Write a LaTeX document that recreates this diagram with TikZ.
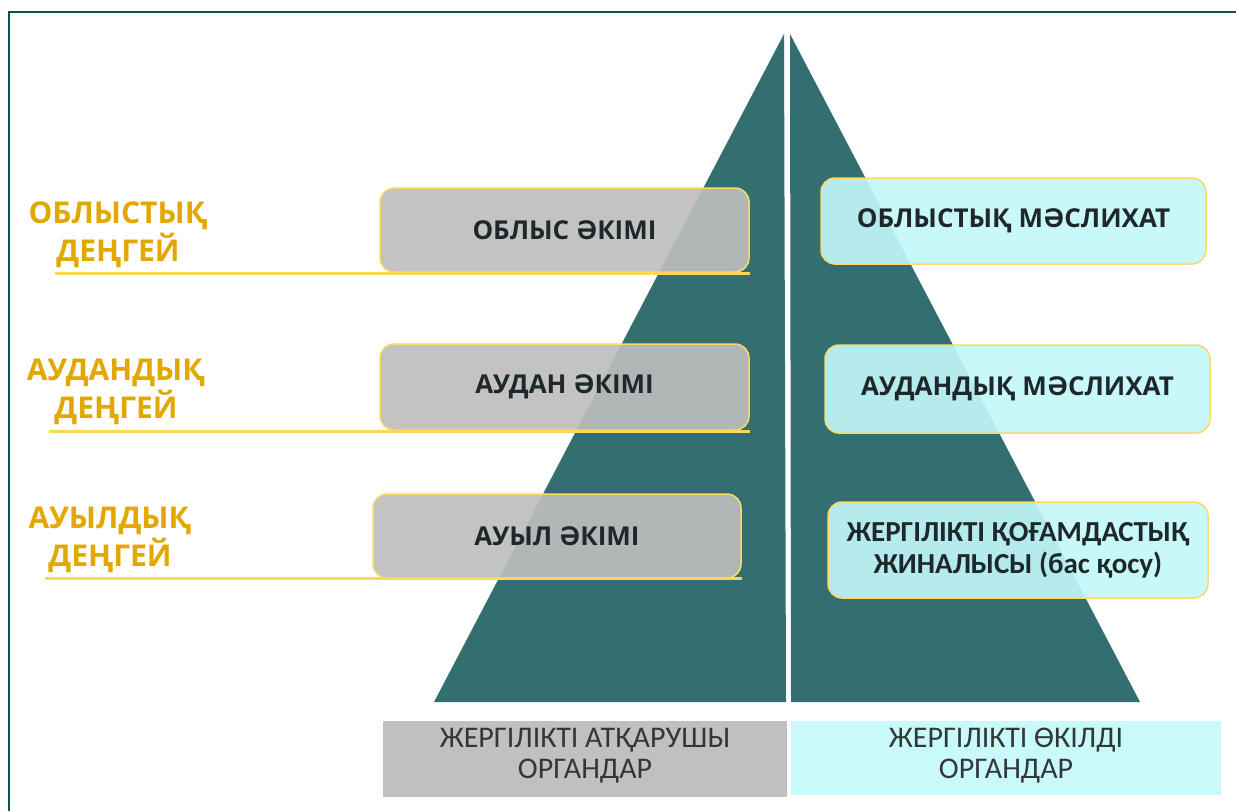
\documentclass[tikz,border=0pt]{standalone}
\usepackage{fontspec}
\setmainfont{Open Sans}
\newfontfamily\calib{Carlito}
\definecolor{frameteal}{RGB}{20,80,82}
\definecolor{pyrteal}{RGB}{51,111,112}
\definecolor{lvlgold}{RGB}{226,168,0}
\definecolor{yline}{RGB}{255,213,90}
\definecolor{boxedge}{RGB}{255,217,102}
\definecolor{exgray}{RGB}{190,190,190}
\definecolor{repcyan}{RGB}{195,248,250}
\definecolor{txtdark}{RGB}{30,40,42}
\definecolor{txtgray}{RGB}{50,55,55}
\definecolor{botgray}{RGB}{192,192,192}
\definecolor{botcyan}{RGB}{201,249,251}
\tikzset{
  lvl/.style={text=lvlgold, font=\fontsize{30}{38}\selectfont\bfseries, align=center, inner sep=0pt},
  orgbox/.style={rounded corners=14pt, draw=boxedge, line width=1.5pt, fill opacity=0.91, text opacity=1,
     text=txtdark, font=\fontsize{26}{31}\selectfont\bfseries, align=center},
  exbox/.style={orgbox, fill=exgray},
  repbox/.style={orgbox, fill=repcyan},
  ylinestyle/.style={draw=yline, line width=3pt},
  botbox/.style={text=txtgray, font=\calib\fontsize{30}{31}\selectfont, align=center, inner sep=0pt},
}
\begin{document}
\begin{tikzpicture}[x=1pt,y=-1pt]
\useasboundingbox (0,0) rectangle (1236,811);
\fill[white] (0,0) rectangle (1236,811);
% frame
\draw[frameteal, line width=2pt] (9,811) -- (9,12) -- (1236,12);
% pyramid
\fill[pyrteal] (434,702) -- (784,34) -- (786,702) -- cycle;
\fill[pyrteal] (790,34) -- (1140,702) -- (791,702) -- cycle;
% level labels
\node[lvl] (l1) at (118,235) {ОБЛЫСТЫҚ\\ДЕҢГЕЙ};
\node[lvl] (l2) at (116,392) {АУДАНДЫҚ\\ДЕҢГЕЙ};
\node[lvl] (l3) at (110,540) {АУЫЛДЫҚ\\ДЕҢГЕЙ};
% boxes
\node[exbox, minimum width=369pt, minimum height=84pt] (b1) at (564.5,230) {ОБЛЫС ӘКІМІ};
\node[exbox, minimum width=369pt, minimum height=86pt] (b2) at (564.5,387) {АУДАН ӘКІМІ};
\node[exbox, minimum width=368pt, minimum height=84pt] (b3) at (557,536) {АУЫЛ ӘКІМІ};
\node[repbox, minimum width=385pt, minimum height=86pt] (r1) at (1013.5,221) {ОБЛЫСТЫҚ МӘСЛИХАТ};
\node[repbox, minimum width=385pt, minimum height=88pt] (r2) at (1017.5,389) {АУДАНДЫҚ МӘСЛИХАТ};
\node[repbox, minimum width=380pt, minimum height=96pt, font=\calib\fontsize{29}{32}\selectfont\bfseries] (r3) at (1018,550) {ЖЕРГІЛІКТІ ҚОҒАМДАСТЫҚ\\ЖИНАЛЫСЫ (бас қосу)};
% underlines
\coordinate (u1) at (55,273.5);
\coordinate (u2) at (49,431.5);
\coordinate (u3) at (45,578);
\draw[ylinestyle] (u1) -- (u1 -| b1.east);
\draw[ylinestyle] (u2) -- (u2 -| b2.east);
\draw[ylinestyle] (u3) -- (u3 -| b3.east);
% bottom boxes
\fill[botgray] (383,721) rectangle (787,797);
\fill[botcyan] (791,721) rectangle (1221,795);
\node[botbox] (ex) at (585,756) {ЖЕРГІЛІКТІ АТҚАРУШЫ\\ОРГАНДАР};
\node[botbox] (rep) at (1006,756) {ЖЕРГІЛІКТІ ӨКІЛДІ\\ОРГАНДАР};
\end{tikzpicture}
\end{document}
